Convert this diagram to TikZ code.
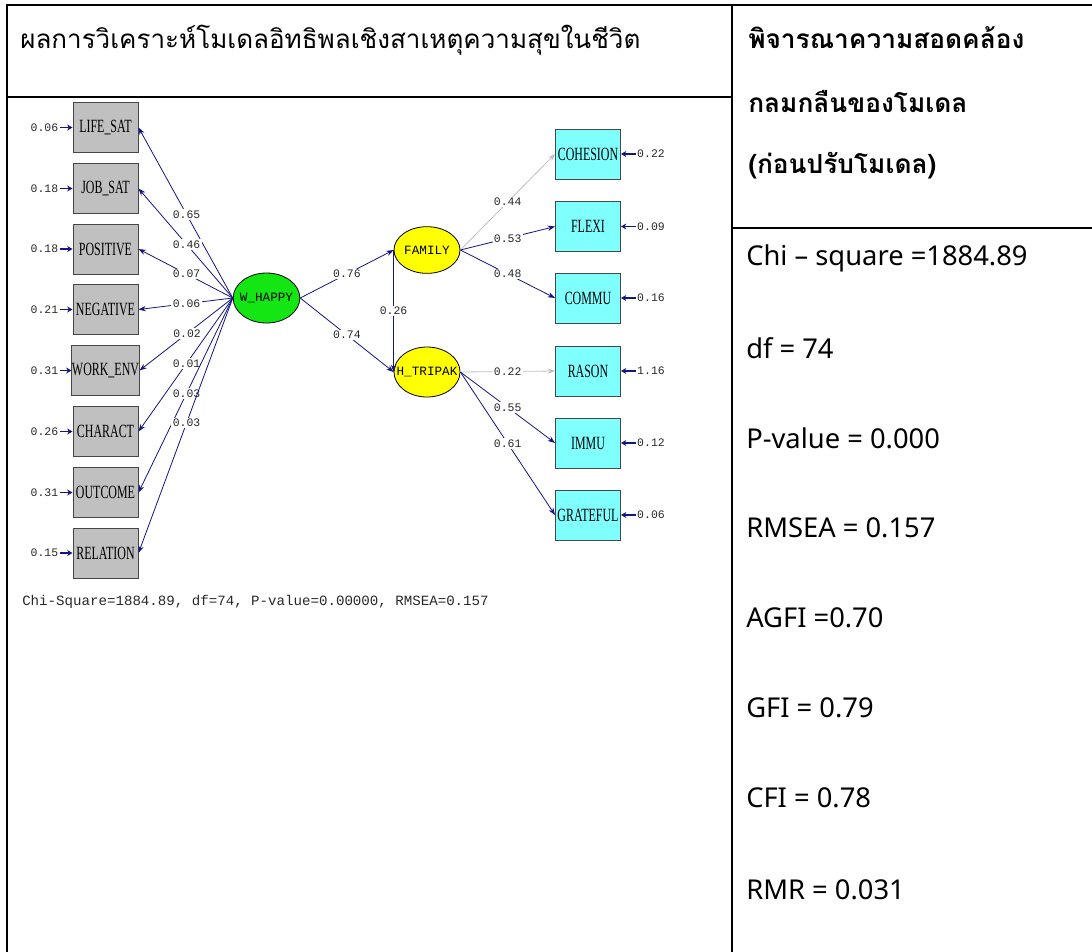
\documentclass[tikz,border=0pt]{standalone}
\usepackage{fontspec}
\usetikzlibrary{shapes.geometric,arrows.meta}
\newfontfamily\thaifont[Script=Thai]{Loma}
\newfontfamily\statfont{Noto Sans}
\newfontfamily\boxfont[FakeStretch=0.64]{Liberation Serif}
\newfontfamily\monofont{Liberation Mono}
\newfontfamily\latfont{Liberation Mono}
\newcommand\zw[1]{\makebox[0pt]{#1}}
\definecolor{navy}{RGB}{20,20,130}
\definecolor{lgray}{RGB}{190,190,200}
\definecolor{boxgray}{RGB}{192,192,192}
\definecolor{boxcyan}{RGB}{128,255,255}
\definecolor{latgreen}{RGB}{20,230,20}
\definecolor{latyellow}{RGB}{255,255,0}
\definecolor{numtext}{RGB}{40,40,40}
\definecolor{boxedge}{RGB}{70,70,70}
\tikzset{
  obs/.style={rectangle, draw=boxedge, line width=0.75pt, minimum width=48.75pt, minimum height=37.5pt, inner sep=0pt, font=\boxfont\fontsize{14}{15}\selectfont},
  graybox/.style={obs, fill=boxgray},
  cyanbox/.style={obs, fill=boxcyan},
  lat/.style={ellipse, draw=black, line width=0.6pt, minimum width=49.5pt, minimum height=37.5pt, inner sep=0pt, font=\latfont\fontsize{9.5}{10}\selectfont},
  num/.style={font=\monofont\fontsize{8.6}{9}\selectfont, text=numtext, inner sep=1pt},
  lbl/.style={num, fill=white},
  pth/.style={draw=navy, line width=0.6pt, -{Stealth[length=5.5pt,width=4pt]}},
  gpth/.style={pth, draw=lgray},
  err/.style={draw=navy, line width=1pt, -{Stealth[length=4pt,width=4.5pt]}},
  tline/.style={draw=black, line width=1.5pt},
  stat/.style={anchor=west, inner sep=0pt, font=\statfont\fontsize{20.5}{24}\selectfont},
  thb/.style={anchor=west, inner sep=0pt, font=\thaifont\bfseries\fontsize{19.7}{23}\selectfont},
}
\begin{document}
\begin{tikzpicture}[x=0.75pt,y=-0.75pt]
\useasboundingbox (0,0) rectangle (1092,951);
% table
\draw[tline] (7,952) -- (7,5) -- (1093,5);
\draw[tline] (732,5) -- (732,952);
\draw[tline] (7,97) -- (732,97);
\draw[tline] (732,228) -- (1093,228);
\node[anchor=west, inner sep=0pt, font=\thaifont\fontsize{19.5}{23}\selectfont] (title) at (20,40) {ผลการวิเคราะห์โมเดลอิทธิพลเชิงสาเหตุความสุขในชีวิต};
\node[thb] (r1) at (748,38) {พิจารณาความสอดคล้อง};
\node[thb] (r2) at (748,102) {กลมกลืนของโมเดล};
\node[thb] (r3) at (748,166) {(ก่อนปรับโมเดล)};
\node[stat] (s1) at (746,258) {Chi – square =1884.89};
\node[stat] (s2) at (746,348) {df = 74};
\node[stat] (s3) at (746,438) {P-value = 0.000};
\node[stat] (s4) at (746,528) {RMSEA = 0.157};
\node[stat] (s5) at (746,618) {AGFI =0.70};
\node[stat] (s6) at (746,708) {GFI = 0.79};
\node[stat] (s7) at (746,798) {CFI = 0.78};
\node[stat] (s8) at (746,890) {RMR = 0.031};
% observed left
\node[graybox] (ls) at (105.5,127.5) {LIFE\_SAT};
\node[graybox] (js) at (105.5,188.5) {JOB\_SAT};
\node[graybox] (po) at (105.5,249) {POSITIVE};
\node[graybox] (ne) at (105.5,309.5) {NEGATIVE};
\node[graybox] (we) at (105.5,370.5) {WORK\_ENV};
\node[graybox] (ch) at (105.5,431.5) {CHARACT};
\node[graybox] (ou) at (105.5,492.5) {OUTCOME};
\node[graybox] (re) at (105.5,553) {RELATION};
% latent
\node[lat, fill=latgreen, minimum width=50pt] (wh) at (266.5,298) {\zw{W\_HAPPY}};
\node[lat, fill=latyellow, minimum height=35pt] (fam) at (427,250) {\zw{FAMILY}};
\node[lat, fill=latyellow] (ht) at (427,372) {\zw{H\_TRIPAK}};
% observed right
\node[cyanbox] (coh) at (588,154) {COHESION};
\node[cyanbox] (fle) at (588,226.5) {FLEXI};
\node[cyanbox] (com) at (588,298) {COMMU};
\node[cyanbox] (ras) at (588,371) {RASON};
\node[cyanbox] (imm) at (588,443) {IMMU};
\node[cyanbox] (gra) at (588,515) {GRATEFUL};
% left paths
\draw[pth] (wh.west) -- node[lbl,pos=0.49] {0.65} (ls.east);
\draw[pth] (wh.west) -- node[lbl,pos=0.49] {0.46} (js.east);
\draw[pth] (wh.west) -- node[lbl,pos=0.49] {0.07} (po.east);
\draw[pth] (wh.west) -- node[lbl,pos=0.49] {0.06} (ne.east);
\draw[pth] (wh.west) -- node[lbl,pos=0.49] {0.02} (we.east);
\draw[pth] (wh.west) -- node[lbl,pos=0.49] {0.01} (ch.east);
\draw[pth] (wh.west) -- node[lbl,pos=0.49] {0.03} (ou.east);
\draw[pth] (wh.west) -- node[lbl,pos=0.49] {0.03} (re.east);
% structural
\draw[pth] (wh.east) -- node[lbl] {0.76} (fam.west);
\draw[pth] (wh.east) -- node[lbl] {0.74} (ht.west);
\draw[pth] (fam.west) -- node[lbl] {0.26} (ht.west);
% right paths
\draw[gpth] (fam.east) -- node[lbl] {0.44} (coh.west);
\draw[pth] (fam.east) -- node[lbl] {0.53} (fle.west);
\draw[pth] (fam.east) -- node[lbl] {0.48} (com.west);
\draw[gpth] (ht.east) -- node[lbl] {0.22} (ras.west);
\draw[pth] (ht.east) -- node[lbl] {0.55} (imm.west);
\draw[pth] (ht.east) -- node[lbl] {0.61} (gra.west);
% error terms left
\foreach \n/\v/\y in {ls/0.06/127.5, js/0.18/188.5, po/0.18/249, ne/0.21/309.5, we/0.31/370.5, ch/0.26/431.5, ou/0.31/492.5, re/0.15/553}{
  \node[num] (e\n) at (44.5,\y) {\v};
  \draw[err] (e\n.east) -- (\n.west);
}
% error terms right
\foreach \n/\v/\y in {coh/0.22/154, fle/0.09/226.5, com/0.16/298, ras/1.16/371, imm/0.12/443, gra/0.06/515}{
  \node[num] (e\n) at (651,\y) {\v};
  \draw[err] (e\n.west) -- (\n.east);
}
\node[anchor=west, inner sep=0pt, font=\monofont\fontsize{10.6}{12}\selectfont, text=numtext] (cap) at (22,602) {Chi-Square=1884.89, df=74, P-value=0.00000, RMSEA=0.157};
\end{tikzpicture}
\end{document}
